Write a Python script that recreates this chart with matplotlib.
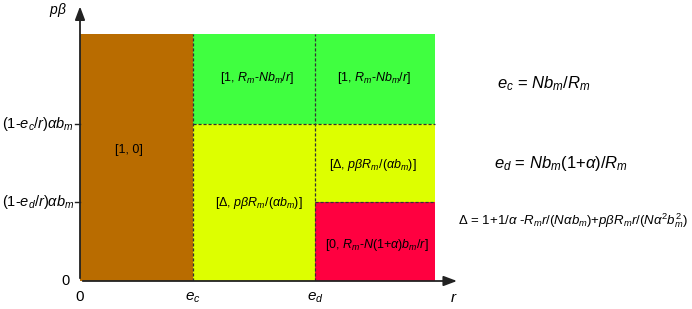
import matplotlib.pyplot as plt
from matplotlib.patches import Rectangle

plt.rcParams['font.family'] = ['Liberation Sans', 'DejaVu Sans']
plt.rcParams['mathtext.fontset'] = 'custom'
plt.rcParams['mathtext.rm'] = 'Liberation Sans'
plt.rcParams['mathtext.it'] = 'Liberation Sans:italic'
plt.rcParams['mathtext.bf'] = 'Liberation Sans:bold'

# region boundaries (arbitrary units)
r_ticks = [0, 1.0, 2.08]
r_tick_labels = ['0', r'$e_c$', r'$e_d$']
r_max = 3.14
pb_ticks = [0, 1.0, 2.0]
pb_tick_labels = ['0', r'(1-$e_d$/$r$)$\alpha b_m$', r'(1-$e_c$/$r$)$\alpha b_m$']
pb_max = 3.15

# regions: (x0, x1, y0, y1, colour, label)
regions = [
    (0, 1.0, 0, pb_max, '#b96c00', '[1, 0]'),
    (1.0, 2.08, 2.0, pb_max, '#40ff40', r'[1, $R_m$-$Nb_m$/$r$]'),
    (2.08, r_max, 2.0, pb_max, '#40ff40', r'[1, $R_m$-$Nb_m$/$r$]'),
    (1.0, 2.08, 0, 2.0, '#ddff00', r'[$\mathit{\Delta}$, $p\beta R_m$/($\alpha b_m$)]'),
    (2.08, r_max, 1.0, 2.0, '#ddff00', r'[$\mathit{\Delta}$, $p\beta R_m$/($\alpha b_m$)]'),
    (2.08, r_max, 0, 1.0, '#ff0040', r'[0, $R_m$-$N$(1+$\alpha$)$b_m$/$r$]'),
]
label_pos = [(0.43, 1.67), (1.57, 2.59), (2.6, 2.59), (1.58, 0.99), (2.59, 1.48), (2.63, 0.46)]

equations = [
    (r'$e_c$ = $Nb_m$/$R_m$', 497 / 692, 0.73, 12),
    (r'$e_d$ = $Nb_m$(1+$\alpha$)/$R_m$', 494 / 692, 0.47, 12),
    (r'$\mathit{\Delta}$ = 1+1/$\alpha$ -$R_m r$/($N\alpha b_m$)+$p\beta R_m r$/($N\alpha^2 b_m^2$)',
     458 / 692, 0.285, 9.5),
]

fig = plt.figure(figsize=(6.92, 3.09), dpi=100)
ax = fig.add_axes([80 / 692, 28 / 309, 373 / 692, 275 / 309])
ax.set_xlim(0, 3.3)
ax.set_ylim(0, 3.5)
ax.axis('off')

for (x0, x1, y0, y1, c, lab), (tx, ty) in zip(regions, label_pos):
    ax.add_patch(Rectangle((x0, y0), x1 - x0, y1 - y0, facecolor=c, edgecolor='none'))
    ax.text(tx, ty, lab, ha='center', va='center', fontsize=9)

dash = dict(color='#333333', lw=0.9, ls=(0, (2.5, 1.5)))
ax.plot([1.0, 1.0], [0, pb_max], **dash)
ax.plot([2.08, 2.08], [0, pb_max], **dash)
ax.plot([1.0, r_max], [2.0, 2.0], **dash)
ax.plot([2.08, r_max], [1.0, 1.0], **dash)

# axes with arrows
ax.annotate('', xy=(3.36, 0), xytext=(0, 0), annotation_clip=False,
            arrowprops=dict(arrowstyle='-|>,head_length=0.8,head_width=0.3', color='#222222', lw=1.3))
ax.annotate('', xy=(0, 3.53), xytext=(0, 0), annotation_clip=False,
            arrowprops=dict(arrowstyle='-|>,head_length=0.8,head_width=0.3', color='#222222', lw=1.3))

for y, lab in zip(pb_ticks, pb_tick_labels):
    if y > 0:
        ax.plot([-0.04, 0], [y, y], color='#222222', lw=1, clip_on=False)
    ax.text(-0.05 if y > 0 else -0.09, y, lab, ha='right', va='center', fontsize=10.5)
for x, lab in zip(r_ticks, r_tick_labels):
    ax.text(x, -0.12, lab, ha='center', va='top', fontsize=11)
ax.text(3.31, -0.13, r'$r$', ha='center', va='top', fontsize=11)
ax.text(-0.12, 3.45, r'$p\beta$', ha='right', va='center', fontsize=10)

for txt, x, y, fs in equations:
    fig.text(x, y, txt, ha='left', va='center', fontsize=fs)

fig.savefig('out.png', dpi=100)
